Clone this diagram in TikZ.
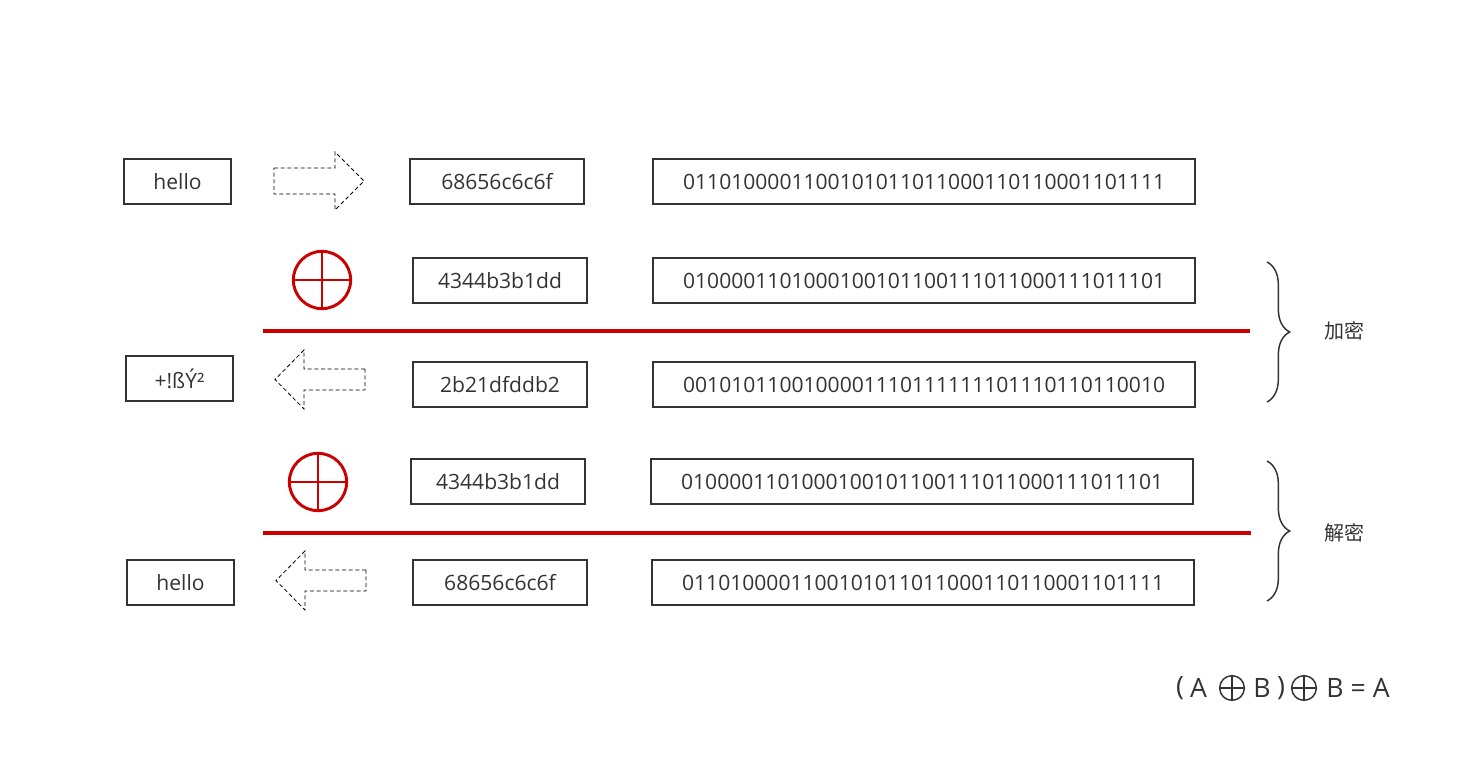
\documentclass[tikz,border=0pt]{standalone}
\usepackage{fontspec}
\setmainfont{Open Sans}
\newfontfamily\cjk{Noto Sans CJK SC}
\usetikzlibrary{positioning, decorations.pathreplacing}

\definecolor{ink}{HTML}{333333}
\definecolor{xorred}{HTML}{CC0000}

\begin{document}
\begin{tikzpicture}[x=0.75pt, y=-0.75pt,
    box/.style={draw=ink, line width=1.1pt, text=ink, inner sep=0pt,
      minimum height=33.75pt, font=\fontsize{15.8}{18}\selectfont},
    wordbox/.style={box, minimum width=80.25pt},
    hexbox/.style={box, minimum width=130.5pt},
    binbox/.style={box, minimum width=406.5pt},
    xorsign/.style={circle, draw=xorred, line width=2.2pt, minimum size=43pt,
      inner sep=0pt, path picture={%
        \draw [xorred, line width=2.2pt] (path picture bounding box.north) --
        (path picture bounding box.south);%
        \draw [xorred, line width=2.2pt] (path picture bounding box.west) --
        (path picture bounding box.east);}},
    smallxor/.style={circle, draw=ink, line width=1.1pt, minimum size=18.5pt,
      inner sep=0pt, path picture={%
        \draw [ink, line width=1.1pt] (path picture bounding box.north) --
        (path picture bounding box.south);%
        \draw [ink, line width=1.1pt] (path picture bounding box.west) --
        (path picture bounding box.east);}},
    dasharrow/.style={draw=black, line width=0.6pt,
      dash pattern=on 3pt off 2pt},
    redline/.style={draw=xorred, line width=2.3pt},
    bracket/.style={draw=ink, line width=1.1pt,
      decorate, decoration={brace, amplitude=17pt}},
    label/.style={text=ink, font=\fontsize{15}{17}\selectfont\cjk},
    formula/.style={text=ink, inner sep=0pt, font=\fontsize{20}{22}\selectfont}]

  \useasboundingbox (0,0) rectangle (1483,784);

  % row 1: plain text
  \node [wordbox] (W1) at (177.5,181.5) {hello};%
  \draw [dasharrow] (274,168) -- (335,168) -- (335,152) -- (364,181) --
  (335,210) -- (335,194) -- (274,194) -- cycle;%
  \node [hexbox] (H1) at (497,181.5) {68656c6c6f};%
  \node [binbox] (B1) at (924,181.5)
  {0110100001100101011011000110110001101111};%

  % row 2: key
  \node [xorsign] (X1) at (322,280) {};%
  \node [hexbox] (H2) at (500,280.5) {4344b3b1dd};%
  \node [binbox] (B2) at (924,280.5)
  {0100001101000100101100111011000111011101};%

  \draw [redline] (263,331) -- (1250,331);%

  % row 3: cipher
  \node [wordbox] (W2) at (179.5,378.5) {+!ßÝ²};%
  \draw [dasharrow] (365,369) -- (304,369) -- (304,350) -- (275,379.5) --
  (304,409) -- (304,390) -- (365,390) -- cycle;%
  \node [hexbox] (H3) at (500,384.5) {2b21dfddb2};%
  \node [binbox] (B3) at (924,384.5)
  {0010101100100001110111111101110110110010};%

  % row 4: key again
  \node [xorsign] (X2) at (318,482) {};%
  \node [hexbox] (H4) at (498,481.5) {4344b3b1dd};%
  \node [binbox] (B4) at (922,481.5)
  {0100001101000100101100111011000111011101};%

  \draw [redline] (263,533) -- (1251,533);%

  % row 5: plain text back
  \node [wordbox] (W3) at (180.5,582.5) {hello};%
  \draw [dasharrow] (366,570) -- (305,570) -- (305,551) -- (276,580.5) --
  (305,610) -- (305,591) -- (366,591) -- cycle;%
  \node [hexbox] (H5) at (500,582.5) {68656c6c6f};%
  \node [binbox] (B5) at (923,582.5)
  {0110100001100101011011000110110001101111};%

  % braces
  \draw [bracket] (1267,262) -- (1267,402);%
  \coordinate (E) at (1290,331);%
  \node [label, right=22pt of E] (EL) {加密};%
  \draw [bracket] (1267,461) -- (1267,601);%
  \coordinate (D) at (1290,533);%
  \node [label, right=22pt of D] (DL) {解密};%

  % formula
  \node [formula] (P1) at (1180,688) {(};%
  \node [formula] (A1) at (1198.5,688) {A};%
  \node [smallxor] (S1) at (1232,688) {};%
  \node [formula] (B1f) at (1262,688) {B};%
  \node [formula] (P2) at (1281,688) {)};%
  \node [smallxor] (S2) at (1304,688) {};%
  \node [formula] (F3) at (1358,688) {B = A};%
\end{tikzpicture}
\end{document}
